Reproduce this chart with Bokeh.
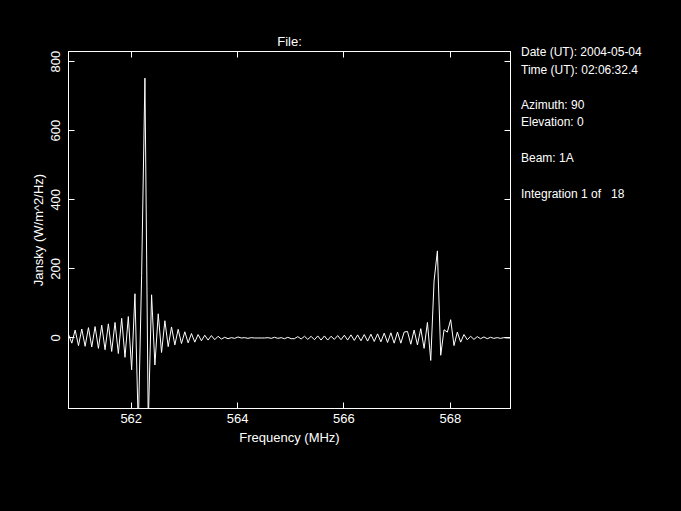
from bokeh.plotting import figure
from bokeh.layouts import row
from bokeh.models import Range1d, FixedTicker, LinearAxis, ColumnDataSource, GlobalInlineStyleSheet, Div
from bokeh.embed import file_html
from bokeh.resources import INLINE

# ---- data ----
freq_start = 560.82      # MHz, first channel
chan_width = 0.0625      # MHz per channel
flux = [
    10, -15, 23, -22, 26, -24, 30, -26, 33, -30,
    37, -34, 41, -39, 45, -45, 57, -56, 62, -92,
    128, -260, 180, 752, -250, 125, -78, 70, -42, 50,
    -25, 32, -20, 25, -16, 18, -14, 13, -12, 10,
    -8, 8, -6, 7, -5, 5, -3, 2, -2, 1,
    -1, 3, 0, 1, -1, 1, 0, 0, 0, 0,
    1, -1, 2, -1, 1, -2, 2, -2, -2, 4,
    -3, 5, -4, 5, -5, 6, -6, 6, -6, 5,
    -4, 7, -5, 8, -6, 9, -7, 9, -8, 10,
    -9, 11, -10, 12, -11, 14, -13, 15, -15, 17,
    -15, 17, 19, -18, 23, -20, 27, -30, 45, -65,
    165, 252, -50, 24, 17, 53, -22, 17, -12, 10,
    -5, 5, -4, 4, -2, 3, -2, 2, -1, 1,
    -1, 1, 0, 0,
]
freq = [freq_start + chan_width * i for i in range(len(flux))]

x_ticks = [562, 564, 566, 568]
y_ticks = [0, 200, 400, 600, 800]

info_lines = [
    "Date (UT): 2004-05-04",
    "Time (UT): 02:06:32.4",
    "Azimuth: 90",
    "Elevation: 0",
    "Beam: 1A",
    "Integration 1 of   18",
]

FONT = "Liberation Sans"

# layout (page pixels)
FRAME_L, FRAME_T, FRAME_W, FRAME_H = 68, 51, 442, 357
PAGE_W, PAGE_H = 680, 510
MAIN_W = FRAME_L + FRAME_W + 2
INFO_W = PAGE_W - MAIN_W - 10
info_left_pad = 521 - MAIN_W - 5
info_center_y = [47.5, 65, 100, 117.5, 153.5, 189.5]

fig = figure(
    width=MAIN_W, height=PAGE_H,
    x_range=Range1d(freq[0], freq[-1]),
    y_range=Range1d(-204, 829),
    output_backend="svg", toolbar_location=None,
    title="File:",
    min_border_left=FRAME_L, min_border_right=2,
    min_border_top=FRAME_T, min_border_bottom=PAGE_H - FRAME_T - FRAME_H,
)
fig.background_fill_color = "black"
fig.border_fill_color = "black"
fig.outline_line_color = "white"
fig.outline_line_width = 1
fig.grid.visible = False

fig.title.text_color = "white"
fig.title.text_font = FONT
fig.title.text_font_size = "13px"
fig.title.text_font_style = "normal"
fig.title.align = "center"
fig.title.standoff = 5

def style_axis(ax, labels=True):
    ax.axis_line_color = "white"
    ax.major_tick_line_color = "white"
    ax.major_tick_in = 6
    ax.major_tick_out = 0
    ax.minor_tick_line_color = None
    ax.major_label_text_font = FONT
    ax.axis_label_text_color = "white"
    ax.axis_label_text_font = FONT
    ax.axis_label_text_font_size = "13px"
    ax.axis_label_text_font_style = "normal"
    if labels:
        ax.major_label_text_color = "white"
        ax.major_label_text_font_size = "13px"
    else:
        ax.major_label_text_color = None
        ax.major_label_text_font_size = "1px"
        ax.major_label_standoff = 0

xa = fig.xaxis[0]
xa.ticker = FixedTicker(ticks=x_ticks)
xa.axis_label = "Frequency (MHz)"
style_axis(xa)
xa.major_label_standoff = 5
xa.axis_label_standoff = 4

ya = fig.yaxis[0]
ya.ticker = FixedTicker(ticks=y_ticks)
ya.axis_label = "Jansky (W/m^2/Hz)"
style_axis(ya)
ya.major_label_orientation = "vertical"
ya.major_label_standoff = 8
ya.axis_label_standoff = 3

top = LinearAxis(ticker=FixedTicker(ticks=x_ticks))
style_axis(top, labels=False)
fig.add_layout(top, "above")
right = LinearAxis(ticker=FixedTicker(ticks=y_ticks))
style_axis(right, labels=False)
fig.add_layout(right, "right")

src = ColumnDataSource(dict(freq=freq, flux=flux))
fig.line("freq", "flux", source=src, line_color="white", line_width=1)

# info text to the right of the plot
html = "".join(
    f'<div style="position:absolute; left:{info_left_pad}px; top:{cy - 7.5}px; '
    f'white-space:pre; line-height:15px;">{txt}</div>'
    for txt, cy in zip(info_lines, info_center_y)
)
info = Div(
    text=html, width=INFO_W, height=PAGE_H - 10,
    styles={"position": "relative", "color": "white", "background-color": "black",
            "font-family": FONT, "font-size": "12px"},
)

p = row(fig, info, spacing=0)
p.stylesheets = [GlobalInlineStyleSheet(css="html, body { margin: 0; padding: 0; background-color: #000000; overflow: hidden; }")]

open("out.html", "w").write(file_html(p, INLINE))
